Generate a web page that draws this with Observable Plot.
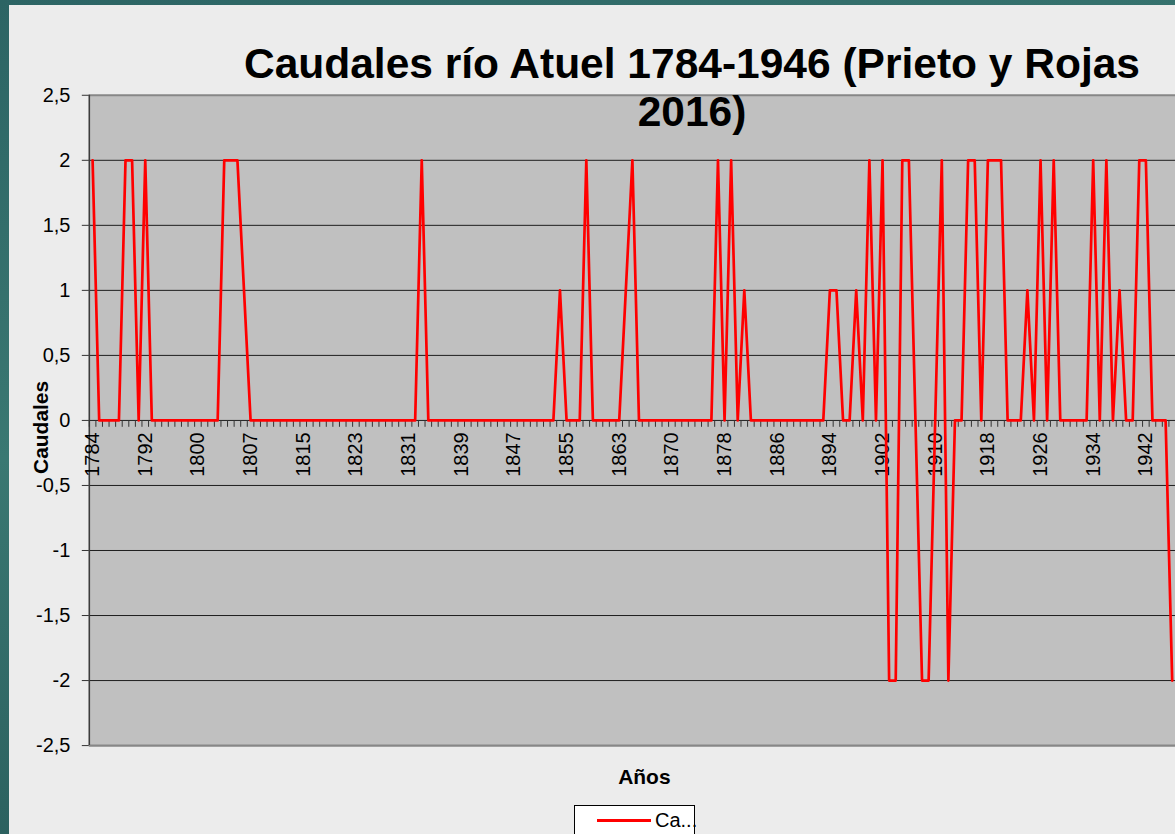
<!DOCTYPE html>
<html>
<head>
<meta charset="utf-8">
<script src="https://cdn.jsdelivr.net/npm/d3@7"></script>
<script src="https://cdn.jsdelivr.net/npm/@observablehq/plot@0.6"></script>
<style>
  html, body { margin: 0; padding: 0; width: 1175px; height: 834px; overflow: hidden; }
  body { background: linear-gradient(165deg, #2c6464 0%, #3a7872 40%, #204e50 100%); position: relative; font-family: "Liberation Sans", Arial, sans-serif; }
  #panel { position: absolute; left: 9px; top: 5px; width: 1166px; height: 829px; background: #ECECEC; overflow: hidden; }
  #chart { position: absolute; left: 0; top: 0; }
  #title { position: absolute; left: 183px; top: 35.2px; width: 1000px; text-align: center; font-weight: 700; font-size: 42.5px; line-height: 48px; color: #000; z-index: 2; white-space: nowrap; }
  #legend { position: absolute; left: 565px; top: 800px; width: 121px; height: 40px; box-sizing: border-box; border: 1px solid #000; background: #fff; z-index: 2; }
  #legend .sw { position: absolute; left: 22px; top: 13px; width: 54px; height: 3px; background: #FF0000; }
  #legend .lb { position: absolute; left: 80px; top: 2.6px; font-size: 20px; line-height: 23px; color: #000; white-space: nowrap; }
</style>
</head>
<body>
<div id="panel">
  <div id="chart"></div>
  <div id="title">Caudales río Atuel 1784-1946 (Prieto y Rojas<br>2016)</div>
  <div id="legend"><div class="sw"></div><div class="lb">Ca...</div></div>
</div>
<script>
// Category labels (as in the source sheet; 165 categories)
const years = [
  "1784","1785","1786","1787","1788","1789","1790","1791","1792","1793","1794","1795","1796","1797","1798","1799","1800",
  "1801","1802","1803","1804","1805","1805","1806","1807",
  "1808","1809","1810","1811","1812","1813","1814","1815","1816","1817","1818","1819","1820","1821","1822","1823",
  "1824","1825","1826","1827","1828","1829","1830","1831","1832","1833","1834","1835","1836","1837","1838","1839",
  "1840","1841","1842","1843","1844","1845","1846","1847","1848","1849","1850","1851","1852","1853","1854","1855",
  "1856","1857","1858","1859","1860","1861","1862","1863",
  "1864","1865","1866","1866","1867","1868","1869","1870",
  "1871","1872","1873","1874","1875","1876","1877","1878","1879","1880","1881","1882","1883","1884","1885","1886",
  "1887","1888","1889","1890","1891","1892","1893","1894","1895","1896","1897","1898","1899","1900","1901","1902",
  "1903","1904","1905","1906","1907","1908","1909","1910","1911","1912","1913","1914","1915","1916","1917","1918",
  "1919","1920","1921","1922","1923","1924","1925","1926","1927","1928","1929","1930","1931","1932","1933","1934",
  "1935","1936","1937","1938","1939","1940","1941","1942","1943","1944","1945","1946"
];

// Caudales series (one value per category)
const caudales = [
  2,0,0,0,0,2,2,0,2,0,
  0,0,0,0,0,0,0,0,0,0,
  2,2,2,1,0,0,0,0,0,0,
  0,0,0,0,0,0,0,0,0,0,
  0,0,0,0,0,0,0,0,0,0,
  2,0,0,0,0,0,0,0,0,0,
  0,0,0,0,0,0,0,0,0,0,
  0,1,0,0,0,2,0,0,0,0,
  0,1,2,0,0,0,0,0,0,0,
  0,0,0,0,0,2,0,2,0,1,
  0,0,0,0,0,0,0,0,0,0,
  0,0,1,1,0,0,1,0,2,0,
  2,-2,-2,2,2,0,-2,-2,0,2,
  -2,0,0,2,2,0,2,2,2,0,
  0,0,1,0,2,0,2,0,0,0,
  0,0,2,0,2,0,1,0,0,2,
  2,0,0,0,-2
];

const yTicks = [-2.5, -2, -1.5, -1, -0.5, 0, 0.5, 1, 1.5, 2, 2.5];
const gridValues = [-2, -1.5, -1, -0.5, 0, 0.5, 1, 1.5, 2];
const labelEvery = 8;

const data = caudales.map((v, i) => ({i, year: years[i], v}));
const labeled = data.filter(d => d.i % labelEvery === 0);
const bounds = years.map((_, i) => i - 0.5).concat([years.length - 0.5]);
const fmt = d => String(d).replace(".", ",");

const chart = Plot.plot({
  width: 1169,
  height: 829,
  marginLeft: 80,
  marginTop: 90,
  marginBottom: 87,
  marginRight: 0,
  x: {type: "linear", domain: [-0.5, years.length - 0.5], axis: null},
  y: {domain: [-2.5, 2.5], axis: null},
  style: {background: "transparent", fontFamily: "'Liberation Sans', Arial, sans-serif", color: "#000", overflow: "visible"},
  marks: [
    Plot.frame({fill: "#C0C0C0", stroke: "none"}),
    Plot.ruleY(gridValues, {stroke: "#1e1e1e", strokeWidth: 1}),
    Plot.ruleY([-2.5, 2.5], {stroke: "#878787", strokeWidth: 2.2}),
    Plot.ruleX([-0.5], {stroke: "#3c3c3c", strokeWidth: 1.6}),
    Plot.axisY(yTicks, {label: null, tickSize: 7, tickPadding: 12, fontSize: 20, tickFormat: fmt, stroke: "#333"}),
    Plot.vector(bounds, {
      x: d => d, y: 0, length: 6, rotate: 180, anchor: "start",
      stroke: "#333", strokeWidth: 1,
      shape: {draw(context, l) { context.moveTo(0, 0); context.lineTo(0, -l); }}
    }),
    Plot.text(labeled, {x: "i", y: 0, text: "year", rotate: -90, textAnchor: "end", dy: 12, fontSize: 20, fill: "#000"}),
    Plot.line(data, {x: "i", y: "v", stroke: "#FF0000", strokeWidth: 2.7, strokeLinejoin: "round"}),
    Plot.text(["Caudales"], {frameAnchor: "left", text: d => d, rotate: -90, textAnchor: "middle", lineAnchor: "middle", dx: -48.5, dy: 7, fontSize: 21, fontWeight: "bold", fill: "#000"}),
    Plot.text(["Años"], {frameAnchor: "bottom", text: d => d, textAnchor: "middle", lineAnchor: "middle", dx: 12, dy: 31.5, fontSize: 21, fontWeight: "bold", fill: "#000"})
  ]
});
document.getElementById("chart").appendChild(chart);
</script>
</body>
</html>
